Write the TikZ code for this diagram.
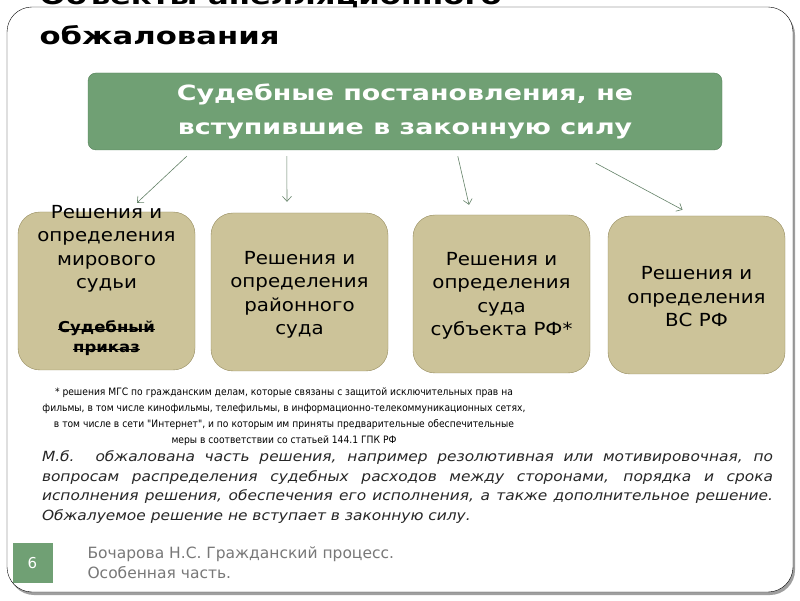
\documentclass[tikz,border=0pt]{standalone}
\usepackage{fontspec}
\setmainfont{DejaVu Sans}
\newfontfamily\condfont{DejaVu Sans Condensed}
\newfontfamily\widefont[FakeStretch=1.28]{DejaVu Sans}
\newfontfamily\boxfont[FakeStretch=1.1]{DejaVu Sans}
\usetikzlibrary{calc,arrows.meta}

\definecolor{topgreen}{RGB}{112,160,116}
\definecolor{topedge}{RGB}{84,128,88}
\definecolor{tanfill}{RGB}{204,195,153}
\definecolor{tanedge}{RGB}{150,140,95}
\definecolor{arrowgreen}{RGB}{100,130,104}
\definecolor{footgray}{RGB}{120,120,120}

\tikzset{
  topbox/.style={draw=topedge,fill=topgreen,rounded corners=8pt,minimum width=634pt,
    minimum height=77pt,text=white,align=center,
    font=\widefont\fontsize{21}{34}\selectfont\bfseries},
  tanbox/.style={draw=tanedge,fill=tanfill,rounded corners=22pt,minimum width=177pt,
    minimum height=158pt},
  boxtext/.style={align=center,font=\boxfont\fontsize{18}{23.5}\selectfont},
  struck/.style={inner sep=0pt,font=\boxfont\fontsize{15}{20}\selectfont\bfseries},
  arr/.style={draw=arrowgreen,line width=0.6pt,-{Straight Barb[length=5pt,width=9pt]}},
}

\begin{document}
\begin{tikzpicture}[x=1pt,y=1pt]
   \useasboundingbox (0,0) rectangle (800,600);
   \clip (0,0) rectangle (800,600);
   % frame
   \fill[gray!75,rounded corners=25pt] (9,5) rectangle (795,590);
   \draw[fill=white,rounded corners=25pt] (7,8) rectangle (793,593);
   \node[anchor=base west,font=\widefont\fontsize{24}{40}\selectfont\bfseries] (title1) at (36,595) {Объекты апелляционного};
   \node[anchor=base west,font=\widefont\fontsize{24}{40}\selectfont\bfseries] (title2) at (36,555) {обжалования};

   \node[topbox] (top) at (405,488.5) {Судебные постановления, не\\вступившие в законную силу};

   \node[tanbox] (mir) at (106.5,309) {};
   \node[tanbox] (rai) at (299.5,308) {};
   \node[tanbox] (sub) at (501.5,306) {};
   \node[tanbox] (vs) at (696.5,305) {};

   \node[boxtext] (mirtxt) at (106.5,351) {Решения и\\определения\\мирового\\судьи};
   \node[struck,anchor=base] (prikaz1) at (106.5,267) {Судебный};
   \node[struck,anchor=base] (prikaz2) at (106.5,247) {приказ};
   \draw[line width=0.8pt] ([yshift=0.5pt]prikaz1.mid west) -- ([yshift=0.5pt]prikaz1.mid east);
   \draw[line width=0.8pt] ([yshift=0.5pt]prikaz2.mid west) -- ([yshift=0.5pt]prikaz2.mid east);
   \node[boxtext] (raitxt) at (299.5,305) {Решения и\\определения\\районного\\суда};
   \node[boxtext] (subtxt) at (501.5,304) {Решения и\\определения\\суда\\субъекта РФ*};
   \node[boxtext] (vstxt) at (696.5,303) {Решения и\\определения\\ВС РФ};

   \draw[arr] ($(top.south west)+(99,-6)$) -- ($(mir.north)+(30.5,9)$);
   \draw[arr] ($(top.south west)+(199,-6)$) -- ($(rai.north)+(-12.5,11)$);
   \draw[arr] ($(top.south west)+(370,-6)$) -- ($(sub.north)+(-32.5,10)$);
   \draw[arr] ($(top.south west)+(508,-13)$) -- ($(vs.north)+(-14,6)$);

   % footnote
   \node[align=center,font=\condfont\fontsize{10.2}{16}\selectfont] (note) at (284,183)
     {* решения МГС по гражданским делам, которые связаны с защитой исключительных прав на\\
      фильмы, в том числе кинофильмы, телефильмы, в информационно-телекоммуникационных сетях,\\
      в том числе в сети "Интернет", и по которым им приняты предварительные обеспечительные\\
      меры в соответствии со статьей 144.1 ГПК РФ};
   \node[text width=731pt,align=justify,inner sep=0pt,text=black!85,
     font=\boxfont\itshape\fontsize{14}{19.5}\selectfont] (remark) at (407.5,113)
     {М.б. обжалована часть решения, например резолютивная или мотивировочная, по вопросам распределения судебных расходов между сторонами, порядка и срока исполнения решения, обеспечения его исполнения, а также дополнительное решение. Обжалуемое решение не вступает в законную силу.};

   % footer
   \node[fill=topgreen,minimum width=40pt,minimum height=40pt,text=white,
     font=\fontsize{15}{18}\selectfont] (num) at (32.5,37) {6};
   \node[anchor=west,align=left,text=footgray,font=\fontsize{15.5}{19.5}\selectfont] (author) at (84,37.5)
     {Бочарова Н.С. Гражданский процесс.\\Особенная часть.};
\end{tikzpicture}
\end{document}
